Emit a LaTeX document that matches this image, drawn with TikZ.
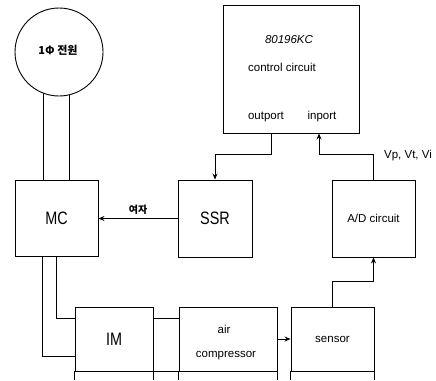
\documentclass[tikz,border=0pt]{standalone}
\usepackage{fontspec}
\setmainfont{Liberation Sans}
\newfontfamily\cjk{Noto Sans CJK KR}
\usetikzlibrary{arrows.meta,positioning}

\begin{document}
\begin{tikzpicture}[x=1pt,y=-1pt,>={Stealth[length=6pt,width=5pt]},line width=0.9pt,
  blk/.style={draw,rectangle,inner sep=0pt},
  big/.style={font=\fontsize{18}{18}\selectfont},
  small/.style={font=\fontsize{11.5}{12}\selectfont,inner sep=1pt}]
\useasboundingbox (0,0) rectangle (436,380);
% source and contactor
\node[draw,circle,minimum size=88pt,inner sep=0pt](pw) at (59,52){};
\node[font=\cjk\bfseries\fontsize{11}{11}\selectfont](pwtxt) at (58,50){1Φ 전원};
\node[blk,big,minimum width=83pt,minimum height=76pt](mc) at (56.5,218){\scalebox{0.8}[1]{MC}};
\node[blk,big,minimum width=74pt,minimum height=77pt](ssr) at (215,218.5){\scalebox{0.8}[1]{SSR}};
% controller
\node[blk,minimum width=136pt,minimum height=128pt](ctrl) at (291,69){};
\node[small,font=\itshape\fontsize{11.5}{12}\selectfont](cpu) at (289,40){80196KC};
\node[small](ctl) at (282,67){control circuit};
\node[small](outp) at (266,117){outport};
\node[small](inp) at (322,117){inport};
\node[blk,small,minimum width=83pt,minimum height=77pt](ad) at (373.5,218.5){A/D circuit};
\node[small](vlab) at (408,156){Vp, Vt, Vi};
% lower row
\node[blk,big,minimum width=78pt,minimum height=64pt](im) at (114,339){\scalebox{0.8}[1]{IM}};
\node[blk,small,minimum width=98pt,minimum height=64pt](comp) at (228,339){};
\node[small](air) at (224,329){air};
\node[small](cmp) at (226,356){compressor};
\node[blk,small,minimum width=83pt,minimum height=64pt](sen) at (332.5,339){sensor};

\draw(pw.249)--(pw.249|-mc.north)
(pw.284)--(pw.284|-mc.north);
\draw[->]([xshift=-20pt]ctrl.south)--++(0,21)-|(ssr.north);
\draw[->](ad.north)--++(0,-25)-|([xshift=28pt]ctrl.south);
\draw[->](ssr.west)--(ssr.west-|mc.east)node[midway,above,font=\cjk\bfseries\fontsize{10}{10}\selectfont](exc){여자};
\draw[->](sen.north)--++(0,-25)-|(ad.south);
\draw[->](comp.east)--(sen.west);
\draw([yshift=21pt]im.east)--([yshift=21pt]comp.west)
(im.south east)--(comp.south west);
\draw([xshift=-14.5pt]mc.south)|-([yshift=-17pt]im.west);
\draw(mc.south)|-([yshift=21pt]im.west);
\foreach \b in {im,comp,sen}
  \draw(\b.south west)--(\b.south west|-0,380)(\b.south east)--(\b.south east|-0,380);
\end{tikzpicture}
\end{document}
